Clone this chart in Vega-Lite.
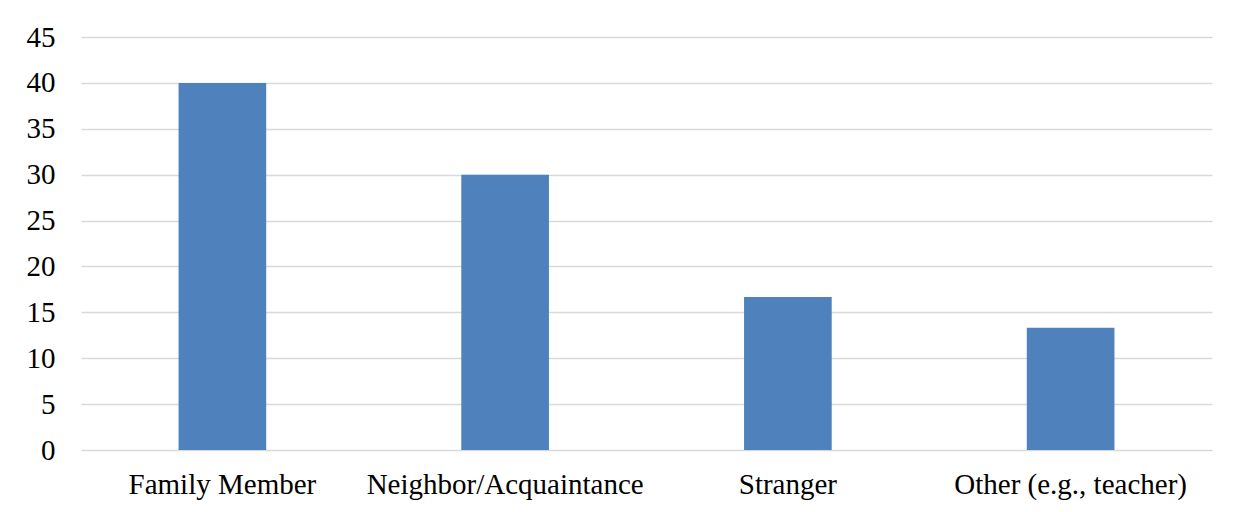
{
  "$schema": "https://vega.github.io/schema/vega-lite/v6.json",
  "autosize": {"type": "none"},
  "width": 1131,
  "height": 413,
  "padding": {"left": 81, "top": 37, "right": 26, "bottom": 62},
  "background": "white",
  "data": {"values": [
    {"category": "Family Member", "value": 40},
    {"category": "Neighbor/Acquaintance", "value": 30},
    {"category": "Stranger", "value": 16.67},
    {"category": "Other (e.g., teacher)", "value": 13.33}
  ]},
  "mark": {"type": "bar", "color": "#4f81bd"},
  "encoding": {
    "x": {
      "field": "category", "type": "nominal", "sort": null,
      "scale": {"paddingInner": 0.69, "paddingOuter": 0.345},
      "axis": {"title": null, "labelAngle": 0, "ticks": false, "domain": false, "labelPadding": 20, "labelLimit": 0,
               "labelFont": "Liberation Serif", "labelFontSize": 29, "labelColor": "#000000"}
    },
    "y": {
      "field": "value", "type": "quantitative",
      "scale": {"domain": [0, 45], "nice": false},
      "axis": {"title": null, "values": [0,5,10,15,20,25,30,35,40,45], "ticks": false, "domain": false,
               "labelPadding": 26, "labelFont": "Liberation Serif", "labelFontSize": 29, "labelColor": "#000000",
               "gridColor": "#d9d9d9", "gridWidth": 1.5}
    }
  },
  "config": {"view": {"stroke": null}}
}
